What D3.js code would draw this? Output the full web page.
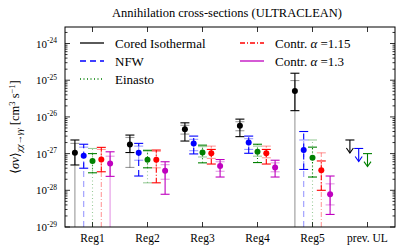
<!DOCTYPE html>
<html>
<head>
<meta charset="utf-8">
<script src="https://cdn.jsdelivr.net/npm/d3@7"></script>
<style>
  body { margin: 0; background: #fff; }
  svg text { font-family: "Liberation Serif", "DejaVu Serif", serif; }
</style>
</head>
<body>
<div id="chart"></div>
<script>
// regions on the x axis
let regions = ["Reg1", "Reg2", "Reg3", "Reg4", "Reg5"];
let tickLabels = ["Reg1", "Reg2", "Reg3", "Reg4", "Reg5", "prev. UL"];

// profiles (legend order)
let seriesNames = ["Cored Isothermal", "NFW", "Einasto", "Contr. α=1.15", "Contr. α=1.3"];
let seriesColors = ["#000000", "#0000ff", "#008000", "#ff0000", "#bf00bf"];

// central values per region
let coredVal = [1.05e-27, 1.78e-27, 4.6e-27, 5.7e-27, 5.1e-26];
let nfwVal = [8.7e-28, 1.05e-27, 1.9e-27, 2.0e-27, 1.26e-27];
let einastoVal = [6.3e-28, 6.8e-28, 1.07e-27, 1.12e-27, 7.7e-28];
let contr115Val = [6.9e-28, 6.8e-28, 1.02e-27, 1.02e-27, 3.5e-28];
let contr13Val = [5.4e-28, 3.4e-28, 4.6e-28, 4.2e-28, 7.8e-29];

// dark error bars [low, high]
let coredErr = [[4.9e-28, 2.35e-27], [1.07e-27, 3.2e-27], [2.2e-27, 6.9e-27], [2.9e-27, 8.7e-27], [1.48e-26, 1.55e-25]];
let nfwErr = [[4.0e-28, 1.8e-27], [2.45e-28, 1.9e-27], [9.8e-28, 3.0e-27], [1.02e-27, 3.0e-27], [3.7e-28, 4.0e-27]];
let einastoErr = [[3.0e-28, 1.0e-27], [4.1e-28, 1.2e-27], [5.6e-28, 1.7e-27], [5.7e-28, 1.8e-27], [2.3e-28, 1.5e-27]];
let contr115Err = [[3.2e-28, 1.48e-27], [1.6e-28, 1.25e-27], [5.2e-28, 1.3e-27], [5.2e-28, 1.3e-27], [1.0e-28, 6.3e-28]];
let contr13Err = [[2.4e-28, 1.12e-27], [7.8e-29, 6.0e-28], [2.3e-28, 6.9e-28], [2.3e-28, 6.6e-28], [2.2e-29, 2.45e-28]];

// light error bars [low, high], low = 0 means down to the axis
let coredSys = [[0, 1.9e-27], [4.2e-28, 2.75e-27], [3.4e-27, 5.9e-27], [4.2e-27, 7.4e-27], [0, 9.8e-26]];
let nfwSys = [[0, 1.5e-27], [6.6e-28, 1.6e-27], [1.2e-27, 2.45e-27], [1.3e-27, 2.55e-27], [0, 2.35e-27]];
let einastoSys = [[0, 1.38e-27], [1.6e-28, 1.26e-27], [8.1e-28, 1.55e-27], [8.5e-28, 1.6e-27], [0, 2.35e-27]];
let contr115Sys = [[0, 1.3e-27], [4.1e-28, 1.15e-27], [7.4e-28, 1.6e-27], [7.7e-28, 1.6e-27], [0, 1.05e-27]];
let contr13Sys = [[0, 8.5e-28], [2.0e-28, 5.0e-28], [3.3e-28, 6.0e-28], [3.2e-28, 5.6e-28], [4.0e-29, 1.5e-28]];

// previous upper limits (Cored, NFW, Einasto)
let prevUL = [2.35e-27, 1.38e-27, 1.0e-27];

let allVal = [coredVal, nfwVal, einastoVal, contr115Val, contr13Val];
let allErr = [coredErr, nfwErr, einastoErr, contr115Err, contr13Err];
let allSys = [coredSys, nfwSys, einastoSys, contr115Sys, contr13Sys];
let dashes = [null, "6,4", "1,2.5", "5,2,1,2", null];
let offsets = [-0.32, -0.16, 0, 0.16, 0.32];

let W = 407, H = 250;
let margin = {top: 27, right: 12, bottom: 23, left: 65};
let w = W - margin.left - margin.right;
let h = H - margin.top - margin.bottom;

let svg = d3.select("#chart").append("svg")
  .attr("width", W).attr("height", H);
let g = svg.append("g")
  .attr("transform", "translate(" + margin.left + "," + margin.top + ")");

let x = d3.scaleLinear().domain([0.5, 6.5]).range([0, w]);
let y = d3.scaleLog().domain([1e-29, Math.pow(10, -23.55)]).range([h, 0]);

// ticks (inside, all four sides)
let majors = [-29, -28, -27, -26, -25, -24].map(e => Math.pow(10, e));
let minors = [];
for (let e = -29; e <= -24; e++) {
  for (let k = 2; k <= 9; k++) {
    let v = k * Math.pow(10, e);
    if (v < y.domain()[1]) minors.push(v);
  }
}
let ticks = g.append("g").attr("stroke", "#000").attr("stroke-width", 0.8);
majors.forEach(v => {
  ticks.append("line").attr("x1", 0).attr("x2", 5).attr("y1", y(v)).attr("y2", y(v));
  ticks.append("line").attr("x1", w).attr("x2", w - 5).attr("y1", y(v)).attr("y2", y(v));
});
minors.forEach(v => {
  ticks.append("line").attr("x1", 0).attr("x2", 2.5).attr("y1", y(v)).attr("y2", y(v));
  ticks.append("line").attr("x1", w).attr("x2", w - 2.5).attr("y1", y(v)).attr("y2", y(v));
});
tickLabels.forEach((t, i) => {
  ticks.append("line").attr("x1", x(i + 1)).attr("x2", x(i + 1)).attr("y1", h).attr("y2", h - 5);
  ticks.append("line").attr("x1", x(i + 1)).attr("x2", x(i + 1)).attr("y1", 0).attr("y2", 5);
});

// y tick labels 10^n
majors.forEach(v => {
  let e = Math.round(Math.log10(v));
  let t = g.append("text")
    .attr("x", -8).attr("y", y(v) + 4)
    .attr("text-anchor", "end")
    .attr("font-size", 11);
  t.append("tspan").text("10");
  t.append("tspan").attr("dy", -4.5).attr("font-size", 7.5).text("-" + Math.abs(e));
});

// x tick labels
tickLabels.forEach((t, i) => {
  g.append("text")
    .attr("x", x(i + 1)).attr("y", h + 15)
    .attr("text-anchor", "middle")
    .attr("font-size", 11.5)
    .text(t);
});

// error bars and points
function ypix(v) {
  return v <= 0 ? h : y(v);
}
function errorbar(gg, cx, lo, hi, color, dash, opacity) {
  let b = gg.append("g").attr("stroke", color).attr("stroke-opacity", opacity).attr("stroke-width", 1.1);
  b.append("line")
    .attr("x1", cx).attr("x2", cx)
    .attr("y1", ypix(lo)).attr("y2", y(hi))
    .attr("stroke-dasharray", dash);
  b.append("line").attr("x1", cx - 4.5).attr("x2", cx + 4.5).attr("y1", y(hi)).attr("y2", y(hi));
  if (lo > 0) {
    b.append("line").attr("x1", cx - 4.5).attr("x2", cx + 4.5).attr("y1", y(lo)).attr("y2", y(lo));
  }
}

let plot = g.append("g");
allVal.forEach((vals, s) => {
  vals.forEach((v, i) => {
    let cx = x(i + 1 + offsets[s]);
    errorbar(plot, cx, allSys[s][i][0], allSys[s][i][1], seriesColors[s], dashes[s], 0.4);
    errorbar(plot, cx, allErr[s][i][0], allErr[s][i][1], seriesColors[s], dashes[s], 1);
    plot.append("circle")
      .attr("cx", cx).attr("cy", y(v)).attr("r", 3)
      .attr("fill", seriesColors[s]);
  });
});

// previous upper limits: cap + downward arrow
prevUL.forEach((v, s) => {
  let cx = x(6 + offsets[s]);
  let y0 = y(v), y1 = y0 + 13;
  let a = plot.append("g").attr("stroke", seriesColors[s]).attr("stroke-width", 1.1).attr("fill", "none");
  a.append("line").attr("x1", cx - 4.5).attr("x2", cx + 4.5).attr("y1", y0).attr("y2", y0);
  a.append("line").attr("x1", cx).attr("x2", cx).attr("y1", y0).attr("y2", y1);
  a.append("path").attr("d", "M" + (cx - 3.5) + "," + (y1 - 5) + "L" + cx + "," + y1 + "L" + (cx + 3.5) + "," + (y1 - 5));
});

// frame
g.append("rect")
  .attr("width", w).attr("height", h)
  .attr("fill", "none").attr("stroke", "#000").attr("stroke-width", 1);

// legend
let legendPos = [[15, 16], [15, 34], [15, 52], [175, 16], [175, 34]];
seriesNames.forEach((name, s) => {
  let lx = legendPos[s][0], ly = legendPos[s][1];
  g.append("line")
    .attr("x1", lx).attr("x2", lx + 24).attr("y1", ly).attr("y2", ly)
    .attr("stroke", seriesColors[s]).attr("stroke-width", 1.3)
    .attr("stroke-dasharray", dashes[s]);
  let t = g.append("text")
    .attr("x", lx + 35).attr("y", ly + 4.5)
    .attr("font-size", 13);
  if (name.indexOf("α") >= 0) {
    let parts = name.split("α=");
    t.append("tspan").text(parts[0]);
    t.append("tspan").attr("font-style", "italic").text("α");
    t.append("tspan").text(" =" + parts[1]);
  } else {
    t.text(name);
  }
});

// title
svg.append("text")
  .attr("x", margin.left + w / 2 - 3).attr("y", 17)
  .attr("text-anchor", "middle")
  .attr("font-size", 12.5)
  .text("Annihilation cross-sections (ULTRACLEAN)");

// y label
let yl = svg.append("text")
  .attr("transform", "translate(19," + (margin.top + h / 2) + ")rotate(-90)")
  .attr("text-anchor", "middle")
  .attr("font-size", 12.5);
yl.append("tspan").text("⟨");
yl.append("tspan").attr("font-style", "italic").text("σv");
yl.append("tspan").text("⟩");
yl.append("tspan").attr("font-style", "italic").attr("font-size", 9).attr("dy", 3).text("χχ→γγ");
yl.append("tspan").attr("dy", -3).text(" [cm");
yl.append("tspan").attr("font-size", 8.5).attr("dy", -4.5).text("3");
yl.append("tspan").attr("dy", 4.5).text(" s");
yl.append("tspan").attr("font-size", 8.5).attr("dy", -4.5).text("−1");
yl.append("tspan").attr("dy", 4.5).text("]");
</script>
</body>
</html>
